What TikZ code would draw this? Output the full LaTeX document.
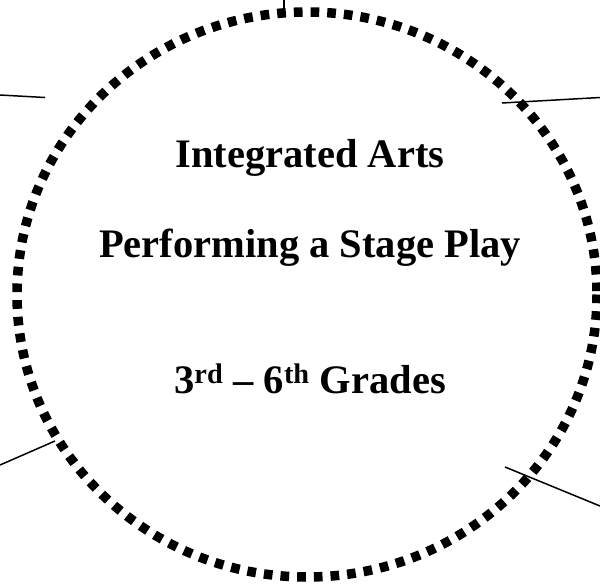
\documentclass[tikz,border=0pt]{standalone}
\usepackage{fontspec}
\setmainfont{Liberation Serif}
\usetikzlibrary{positioning}

\begin{document}
\begin{tikzpicture}[x=1pt,y=-1pt,
    ring/.style={line width=9.5pt, dash pattern=on 8.7pt off 8pt},
    spoke/.style={line width=1.5pt},
    title/.style={font=\fontsize{40.5}{48}\selectfont\bfseries, anchor=base}]
    \useasboundingbox (0,0) rectangle (600,584);
    % dotted ring
    \draw[ring] (307,294.5) ellipse [x radius=290, y radius=282.5];
    % texts
    \node[title] (arts) at (310,167) {Integrated Arts};
    \node[title] (play) at (310,257) {Performing a Stage Play};
    \node[title] (grades) at (310,393) {3\textsuperscript{rd} -- 6\textsuperscript{th} Grades};
    % spokes
    \coordinate (topA) at (284,0);   \coordinate (topB) at (284,9);
    \coordinate (nwA) at (0,95);     \coordinate (nwB) at (45,97.5);
    \coordinate (neA) at (502,103);  \coordinate (neB) at (600,97.5);
    \coordinate (swA) at (0,465);    \coordinate (swB) at (55,441);
    \coordinate (seA) at (505,467);  \coordinate (seB) at (600,506);
    \foreach \a/\b in {topA/topB,nwA/nwB,neA/neB,swA/swB,seA/seB}
    {
    \draw[spoke] (\a) -- (\b);
    }
\end{tikzpicture}
\end{document}
